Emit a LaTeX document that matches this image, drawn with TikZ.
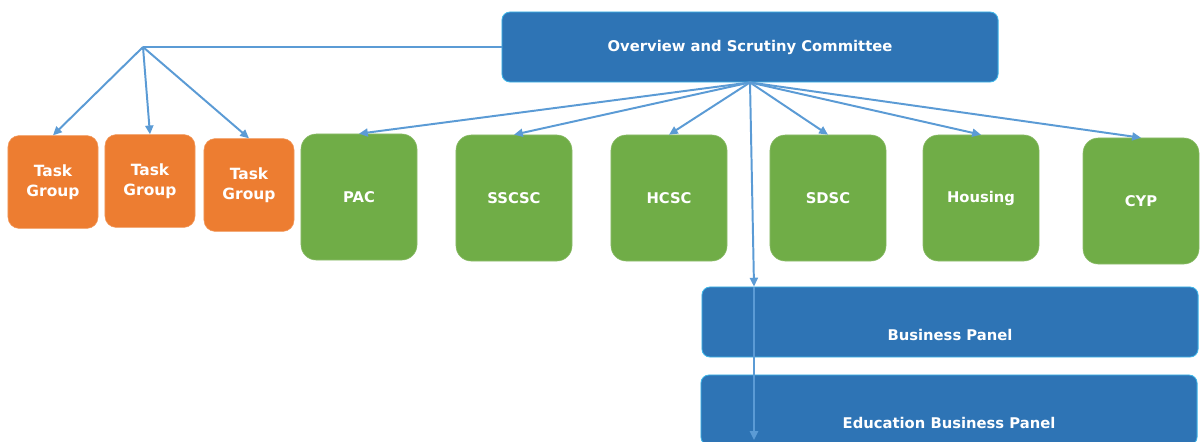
\documentclass[tikz,border=0pt]{standalone}
\usepackage{fontspec}
\setmainfont{DejaVu Sans}
\usetikzlibrary{arrows.meta}
\definecolor{osblue}{HTML}{2E74B5}
\definecolor{osedge}{HTML}{3FB6E8}
\definecolor{osgreen}{HTML}{70AD47}
\definecolor{osorange}{HTML}{ED7D31}
\definecolor{oslink}{HTML}{5B9BD5}
\begin{document}
\begin{tikzpicture}[x=0.025cm,y=-0.025cm,
  font=\fontsize{10.5}{12.5}\selectfont\bfseries,
  board/.style={rectangle,rounded corners=0.2cm,fill=osblue,draw=osedge,line width=0.6pt,text=white,minimum width=12.4cm,minimum height=1.75cm},
  panel/.style={board,text height=0.92cm,text depth=0pt},
  comm/.style={rectangle,rounded corners=0.38cm,fill=osgreen,draw=osgreen!80!white,text=white,minimum width=2.9cm,minimum height=3.15cm},
  task/.style={rectangle,rounded corners=0.28cm,fill=osorange,draw=osorange!80!white,text=white,align=center,
    font=\fontsize{11}{14.5}\selectfont\bfseries,minimum width=2.25cm,minimum height=2.32cm},
  link/.style={draw=oslink,line width=1.4pt,-{Triangle[length=2.2mm,width=2mm]}}]
\useasboundingbox (0,0) rectangle (1200,441);
\node[board] (osc) at (750,47) {Overview and Scrutiny Committee};
\node[task] (tg1) at (53,182) {Task\\Group};
\node[task] (tg2) at (150,181) {Task\\Group};
\node[task] (tg3) at (249,185) {Task\\Group};
\node[comm] (pac) at (359,197) {PAC};
\node[comm] (sscsc) at (514,198) {SSCSC};
\node[comm] (hcsc) at (669,198) {HCSC};
\node[comm] (sdsc) at (828,198) {SDSC};
\node[comm] (hsg) at (981,198) {Housing};
\node[comm] (cyp) at (1141,201) {CYP};
\node[panel] (bp) at (950,322) {Business Panel};
\node[panel] (ebp) at (949,410) {Education Business Panel};
% task groups hang off a branch point left of the committee
\coordinate (hub) at (143,47);
\draw[draw=oslink,line width=1.4pt] (osc.west) -- (hub);
\foreach \t in {tg1,tg2,tg3}
  \draw[link] (hub) -- (\t.north);
\foreach \c in {pac,sscsc,hcsc,sdsc,hsg,cyp}
  \draw[link] (osc.south) -- (\c.north);
% drop line through the panels
\coordinate (drop) at (754,440);
\draw[link] (osc.south) -- (drop |- bp.north);
\draw[link] (drop |- bp.north) -- (drop);
\end{tikzpicture}
\end{document}
